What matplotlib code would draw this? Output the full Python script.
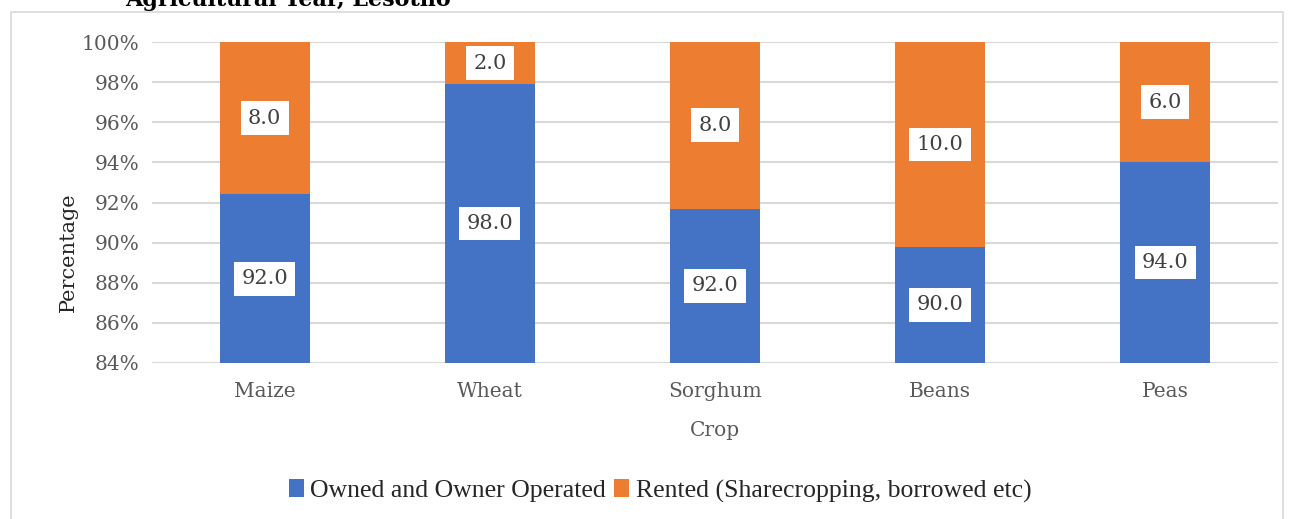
import matplotlib.pyplot as plt
from matplotlib.patches import Rectangle
import numpy as np

crops = ["Maize", "Wheat", "Sorghum", "Beans", "Peas"]
owned = [92.4, 97.9, 91.7, 89.8, 94.0]
rented = [7.6, 2.1, 8.3, 10.2, 6.0]
owned_labels = ["92.0", "98.0", "92.0", "90.0", "94.0"]
rented_labels = ["8.0", "2.0", "8.0", "10.0", "6.0"]
yticks = [84, 86, 88, 90, 92, 94, 96, 98, 100]

BLUE = "#4472C4"
ORANGE = "#ED7D31"
GREY = "#595959"

plt.rcParams['font.family'] = ['DejaVu Serif']

fig = plt.figure(figsize=(12.93, 5.19), dpi=100)
ax = fig.add_axes([152 / 1293, 1 - 363 / 519, (1278 - 152) / 1293, (363 - 42) / 519])

x = np.arange(len(crops))
ax.bar(x, owned, width=0.4, color=BLUE, label="Owned and Owner Operated", zorder=2)
ax.bar(x, rented, width=0.4, bottom=owned, color=ORANGE,
       label="Rented (Sharecropping, borrowed etc)", zorder=2)

ymin, ymax = 84, 100
box = dict(boxstyle="square,pad=0.35", facecolor="white", edgecolor="none")
for i in range(len(crops)):
    ax.text(x[i], (ymin + owned[i]) / 2, owned_labels[i], ha="center", va="center",
            fontsize=15, color="#404040", bbox=box, zorder=3)
    top = min(owned[i] + rented[i], ymax)
    ax.text(x[i], (owned[i] + top) / 2, rented_labels[i], ha="center", va="center",
            fontsize=15, color="#404040", bbox=box, zorder=3)

ax.set_xlim(-0.5, 4.5)
ax.set_ylim(ymin, ymax)
ax.set_yticks(yticks)
ax.set_yticklabels(["{}%".format(t) for t in yticks])
ax.set_xticks(x)
ax.set_xticklabels(crops)
ax.tick_params(length=0, labelsize=14.5, colors=GREY)
ax.tick_params(axis="x", pad=14)
ax.tick_params(axis="y", pad=9)
ax.grid(axis="y", color="#d9d9d9", linewidth=1.5, zorder=0)
for s in ax.spines.values():
    s.set_visible(False)

ax.set_xlabel("Crop", fontsize=14.5, color=GREY, labelpad=14)
ax.set_ylabel("Percentage", fontsize=15, color="#262626")
ax.yaxis.set_label_coords(-0.066, 0.346)

leg = fig.legend(loc="center", bbox_to_anchor=(660 / 1293, 1 - 491 / 519), ncol=2,
                 frameon=False, handlelength=0.6, handleheight=0.7, handletextpad=0.25,
                 columnspacing=0.3, prop={"family": "Liberation Serif", "size": 18.5})
for t in leg.get_texts():
    t.set_color("#262626")

fig.patches.append(Rectangle((11 / 1293, -0.01), (1283 - 11) / 1293, 1.01 - 12 / 519,
                             transform=fig.transFigure, fill=False,
                             edgecolor="#d9d9d9", linewidth=1.2))

fig.text(125 / 1293, 1 - 6 / 519, "Agricultural Year, Lesotho", ha="left", va="baseline",
         fontsize=16, fontweight="bold", color="black")

fig.savefig("out.png", dpi=100)
